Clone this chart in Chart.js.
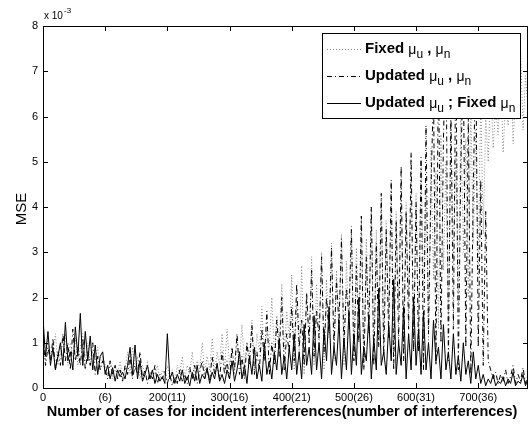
<!DOCTYPE html>
<html>
<head>
<meta charset="utf-8">
<script src="https://cdn.jsdelivr.net/npm/chart.js@4.4.0/dist/chart.umd.min.js"></script>
<style>
  html, body { margin: 0; padding: 0; background: #fff; }
  canvas { display: block; }
</style>
</head>
<body>
<canvas id="chart" width="529" height="430"></canvas>
<script>
// sampled every 4 cases, 0..780; MSE in units of 1e-3
const STEP = 4;

const fixedBoth = [
  0.9, 0.6, 1.1, 0.7, 0.8, 1.2, 0.5, 0.9, 0.7, 1.2, 0.5, 1.0, 0.7, 1.1, 0.5, 0.9, 1.2, 0.6, 1.0, 0.5, 0.8, 0.6, 0.9, 0.4, 0.7,
  0.5, 0.3, 0.6, 0.2, 0.5, 0.3, 0.6, 0.2, 0.4, 0.8, 0.3, 0.9, 0.4, 0.7, 0.2, 0.5, 0.3, 0.6, 0.2, 0.4, 0.3, 0.5, 0.2, 0.4, 0.3,
  0.5, 0.2, 0.4, 0.15, 0.5, 0.3, 0.7, 0.2, 0.5, 0.3, 0.8, 0.2, 0.6, 0.4, 1.0, 0.3, 0.7, 0.4, 1.1, 0.3, 0.8, 0.5, 1.2, 0.4, 1.3,
  0.5, 0.9, 0.3, 1.1, 0.6, 1.4, 0.5, 1.0, 0.7, 1.5, 0.4, 1.2, 0.8, 1.8, 0.6, 1.3, 0.9, 2.0, 0.7, 1.6, 1.0, 2.3, 0.8, 1.7, 1.1,
  2.5, 0.4, 1.9, 0.8, 2.7, 0.3, 2.1, 1.0, 2.9, 0.5, 2.3, 0.9, 3.0, 0.4, 2.4, 1.1, 3.2, 0.6, 2.6, 1.2, 3.4, 0.5, 2.8, 1.3, 3.6,
  0.7, 3.1, 1.4, 3.8, 0.6, 3.3, 1.5, 4.0, 0.8, 3.5, 1.7, 4.2, 0.9, 3.7, 1.6, 4.4, 0.7, 3.9, 1.9, 4.6, 1.0, 4.1, 2.0, 4.8, 0.9,
  4.3, 1.2, 5.0, 2.1, 4.5, 1.0, 5.3, 2.4, 4.8, 1.3, 5.6, 2.6, 5.0, 1.5, 5.9, 2.8, 5.2, 1.8, 6.1, 3.0, 5.5, 2.0, 6.3, 3.2, 5.7,
  2.5, 6.5, 3.4, 6.0, 5.0, 6.8, 5.3, 6.2, 5.6, 7.0, 5.2, 6.4, 5.8, 7.3, 5.4, 6.6, 6.0, 7.5, 5.7, 6.9, 6.2
];

const updatedBoth = [
  1.1, 0.5, 0.9, 0.6, 1.1, 0.4, 0.8, 0.5, 1.2, 0.6, 1.0, 0.4, 1.3, 0.6, 0.9, 0.5, 1.1, 0.4, 0.8, 0.5, 1.0, 0.3, 0.7, 0.4, 0.6,
  0.4, 0.2, 0.6, 0.3, 0.5, 0.2, 0.4, 0.15, 0.5, 0.3, 0.7, 0.2, 0.5, 0.3, 0.8, 0.2, 0.4, 0.1, 0.35, 0.2, 0.5, 0.1, 0.3, 0.2, 0.4,
  0.1, 0.3, 0.05, 0.25, 0.1, 0.4, 0.15, 0.3, 0.1, 0.45, 0.2, 0.5, 0.1, 0.35, 0.6, 0.2, 0.4, 0.15, 0.7, 0.3, 0.5, 0.2, 0.8, 0.3, 0.6,
  0.2, 0.9, 0.4, 1.2, 0.3, 0.7, 0.2, 1.0, 0.5, 1.4, 0.3, 0.8, 0.4, 1.3, 0.6, 1.7, 0.3, 1.0, 0.5, 1.5, 0.7, 2.0, 0.4, 1.2, 0.8,
  1.8, 0.6, 2.3, 0.9, 1.5, 0.5, 2.1, 1.0, 2.6, 0.7, 1.7, 1.1, 2.9, 0.8, 2.0, 1.2, 3.1, 0.9, 2.4, 1.4, 3.3, 1.0, 2.2, 1.6, 3.5,
  0.6, 2.7, 1.0, 3.8, 0.4, 2.9, 1.2, 4.0, 0.5, 3.2, 0.9, 4.3, 0.7, 3.5, 1.1, 4.6, 0.4, 3.7, 1.0, 4.9, 0.6, 3.9, 1.3, 5.2, 0.8,
  4.1, 0.8, 5.1, 0.4, 5.8, 1.2, 4.4, 6.6, 0.5, 7.3, 1.0, 5.5, 7.8, 0.6, 6.2, 1.3, 7.6, 0.4, 5.0, 7.1, 0.9, 6.0, 0.3, 4.4, 7.4,
  0.9, 4.6, 0.5, 3.9, 0.6, 0.4, 0.2, 0.35, 0.1, 0.3, 0.15, 0.4, 0.1, 0.25, 0.5, 0.1, 0.3, 0.15, 0.45, 0.1, 0.3
];

const updatedUFixedN = [
  1.55, 0.7, 1.25, 0.5, 0.9, 0.4, 0.7, 1.0, 0.5, 1.45, 0.6, 0.8, 0.4, 1.35, 0.7, 1.65, 0.5, 1.25, 0.6, 1.15, 0.4, 0.95, 0.3, 0.7, 0.8,
  0.3, 0.5, 0.2, 0.45, 0.15, 0.4, 0.25, 0.35, 0.2, 0.5, 0.9, 0.3, 0.95, 0.2, 0.6, 0.15, 0.3, 0.5, 0.2, 0.4, 0.1, 0.3, 0.15, 0.25, 0.1,
  1.2, 0.2, 0.35, 0.1, 0.3, 0.15, 0.4, 0.1, 0.25, 0.05, 0.35, 0.15, 0.5, 0.1, 0.3, 0.2, 0.45, 0.1, 0.35, 0.2, 0.55, 0.15, 0.3, 0.1, 0.4,
  0.2, 0.6, 0.15, 0.4, 0.8, 0.2, 0.5, 0.1, 0.7, 0.3, 0.9, 0.2, 0.5, 0.15, 1.0, 0.3, 0.6, 0.2, 0.8, 0.4, 1.1, 0.3, 0.7, 0.2, 0.9,
  0.4, 1.2, 0.3, 0.8, 0.2, 1.4, 0.5, 0.9, 0.3, 1.6, 0.4, 1.0, 0.2, 1.3, 0.6, 1.8, 0.3, 0.9, 0.5, 1.5, 0.2, 1.1, 0.4, 1.7, 0.3,
  1.2, 0.5, 2.0, 0.3, 0.9, 0.6, 1.6, 0.2, 1.1, 0.4, 2.2, 0.5, 0.8, 0.3, 1.4, 0.6, 2.4, 0.3, 1.0, 0.5, 1.8, 0.2, 1.2, 0.4, 2.0,
  0.5, 1.3, 0.3, 1.7, 0.4, 1.0, 0.2, 1.5, 0.6, 0.9, 0.2, 1.4, 0.4, 0.8, 0.2, 1.2, 0.3, 0.7, 0.15, 1.0, 0.3, 0.6, 0.1, 0.8, 0.2,
  0.5, 0.1, 0.3, 0.05, 0.2, 0.1, 0.3, 0.05, 0.15, 0.1, 0.25, 0.05, 0.2, 0.1, 0.35, 0.05, 0.15, 0.1, 0.3, 0.05, 0.2
];

const xTickValues = [0, 100, 200, 300, 400, 500, 600, 700];
const xTickLabels = ['0', '(6)', '200(11)', '300(16)', '400(21)', '500(26)', '600(31)', '700(36)'];
const yTickValues = [0, 1, 2, 3, 4, 5, 6, 7, 8];

const FONT = '"Liberation Sans", Arial, sans-serif';
const GRAY = '#888';

function toPoints(values) {
  return values.map((v, i) => ({ x: i * STEP, y: v }));
}

// legend text with mu subscripts
function drawRich(ctx, x, y, parts) {
  parts.forEach(([txt, kind]) => {
    if (kind === 'mu') {
      ctx.font = '14px ' + FONT;
      ctx.fillText('\u03bc', x, y + 1);
      x += ctx.measureText('\u03bc').width;
    } else if (kind === 'sub') {
      ctx.font = '12px ' + FONT;
      ctx.fillText(txt, x, y + 6);
      x += ctx.measureText(txt).width;
    } else {
      ctx.font = 'bold 15px ' + FONT;
      ctx.fillText(txt, x, y);
      x += ctx.measureText(txt).width;
    }
  });
}

const legendItems = [
  { dash: [1, 2], color: GRAY, parts: [['Fixed '], ['', 'mu'], ['u', 'sub'], [' , '], ['', 'mu'], ['n', 'sub']] },
  { dash: [5, 3, 1, 3], color: '#000', parts: [['Updated '], ['', 'mu'], ['u', 'sub'], [' , '], ['', 'mu'], ['n', 'sub']] },
  { dash: [], color: '#000', parts: [['Updated '], ['', 'mu'], ['u', 'sub'], [' ; Fixed '], ['', 'mu'], ['n', 'sub']] }
];

const matlabFrame = {
  id: 'matlabFrame',
  afterDatasetsDraw(chart) {
    const { ctx, chartArea: a, scales: { x, y } } = chart;
    ctx.save();
    ctx.strokeStyle = '#000';
    ctx.lineWidth = 1;
    ctx.setLineDash([]);
    ctx.strokeRect(a.left + 0.5, a.top + 0.5, a.right - a.left - 1, a.bottom - a.top);

    // inward ticks, all four sides
    ctx.beginPath();
    xTickValues.forEach(v => {
      const px = Math.round(x.getPixelForValue(v)) + 0.5;
      ctx.moveTo(px, a.bottom); ctx.lineTo(px, a.bottom - 5);
      ctx.moveTo(px, a.top); ctx.lineTo(px, a.top + 5);
    });
    yTickValues.forEach(v => {
      const py = Math.round(y.getPixelForValue(v)) + 0.5;
      ctx.moveTo(a.left, py); ctx.lineTo(a.left + 5, py);
      ctx.moveTo(a.right, py); ctx.lineTo(a.right - 5, py);
    });
    ctx.stroke();

    // legend box
    const bx = 322, by = 33, bw = 198, bh = 85;
    ctx.fillStyle = '#fff';
    ctx.fillRect(bx, by, bw, bh);
    ctx.strokeRect(bx + 0.5, by + 0.5, bw, bh);
    legendItems.forEach((it, i) => {
      const ly = 49 + i * 27;
      ctx.beginPath();
      ctx.strokeStyle = it.color;
      ctx.setLineDash(it.dash);
      ctx.moveTo(327, ly + 0.5);
      ctx.lineTo(361, ly + 0.5);
      ctx.stroke();
      ctx.setLineDash([]);
      ctx.fillStyle = '#000';
      ctx.textBaseline = 'middle';
      ctx.textAlign = 'left';
      drawRich(ctx, 365, ly, it.parts);
    });

    // exponent label
    ctx.fillStyle = '#000';
    ctx.textBaseline = 'alphabetic';
    ctx.textAlign = 'left';
    ctx.font = '10px ' + FONT;
    ctx.fillText('x 10', 44, 19);
    ctx.font = '8px ' + FONT;
    ctx.fillText('-3', 64, 13);

    // axis titles
    ctx.font = 'bold 14.5px ' + FONT;
    ctx.textAlign = 'center';
    ctx.fillText('Number of cases for incident interferences(number of interferences)', 282, 416);
    ctx.save();
    ctx.translate(22, 209);
    ctx.rotate(-Math.PI / 2);
    ctx.font = '15px ' + FONT;
    ctx.textBaseline = 'middle';
    ctx.fillText('MSE', 0, 0);
    ctx.restore();
    ctx.restore();
  }
};

new Chart(document.getElementById('chart'), {
  type: 'line',
  data: {
    datasets: [
      {
        label: 'Fixed \u03bcu , \u03bcn',
        data: toPoints(fixedBoth),
        borderColor: GRAY,
        borderDash: [1, 2],
        borderWidth: 1,
        order: 3
      },
      {
        label: 'Updated \u03bcu , \u03bcn',
        data: toPoints(updatedBoth),
        borderColor: '#000',
        borderDash: [5, 3, 1, 3],
        borderWidth: 1,
        order: 2
      },
      {
        label: 'Updated \u03bcu ; Fixed \u03bcn',
        data: toPoints(updatedUFixedN),
        borderColor: '#000',
        borderWidth: 1,
        order: 1
      }
    ]
  },
  options: {
    responsive: false,
    animation: false,
    events: [],
    layout: { padding: { top: 26, right: 1, left: 0, bottom: 0 } },
    elements: { point: { radius: 0 }, line: { tension: 0 } },
    plugins: { legend: { display: false }, tooltip: { enabled: false } },
    scales: {
      x: {
        type: 'linear',
        min: 0,
        max: 780,
        grid: { display: false, drawTicks: false },
        border: { display: false },
        afterBuildTicks: scale => { scale.ticks = xTickValues.map(v => ({ value: v })); },
        afterFit: scale => { scale.height = 42; },
        ticks: {
          maxRotation: 0,
          autoSkip: false,
          padding: 3,
          color: '#000',
          font: { family: FONT, size: 11 },
          callback: v => xTickLabels[xTickValues.indexOf(v)]
        }
      },
      y: {
        min: 0,
        max: 8,
        grid: { display: false, drawTicks: false },
        border: { display: false },
        afterBuildTicks: scale => { scale.ticks = yTickValues.map(v => ({ value: v })); },
        afterFit: scale => { scale.width = 43; },
        ticks: {
          padding: 5,
          color: '#000',
          font: { family: FONT, size: 11 },
          callback: v => String(v)
        }
      }
    }
  },
  plugins: [matlabFrame]
});
</script>
</body>
</html>
